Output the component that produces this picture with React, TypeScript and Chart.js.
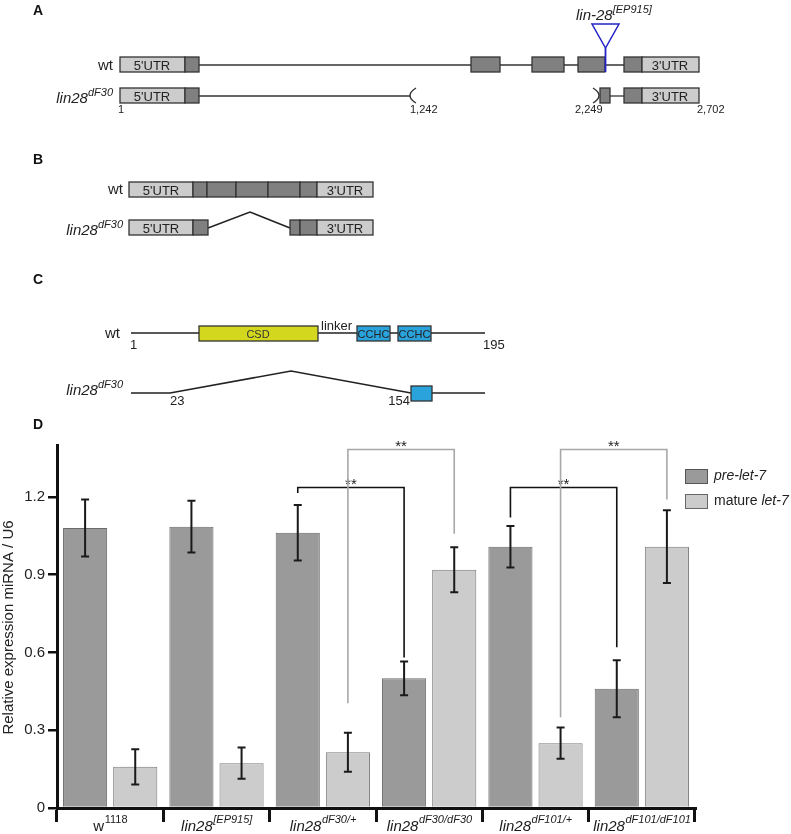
import React, { useEffect, useLayoutEffect, useRef } from "react";
import { Chart, registerables } from "chart.js";

Chart.register(...registerables);

const FONT = "'Liberation Sans', Arial, Helvetica, sans-serif";

// ---------- Panel D data ----------
const categories = ["w1118", "lin28[EP915]", "lin28dF30/+", "lin28dF30/dF30", "lin28dF101/+", "lin28dF101/dF101"];
const labelBase = ["w", "lin28", "lin28", "lin28", "lin28", "lin28"];
const labelSup = ["1118", "[EP915]", "dF30/+", "dF30/dF30", "dF101/+", "dF101/dF101"];
const labelItalic = [false, true, true, true, true, true];

const preLet7 = [1.08, 1.085, 1.062, 0.5, 1.008, 0.46];
const preLet7Err = [0.11, 0.1, 0.107, 0.065, 0.08, 0.11];
const matureLet7 = [0.159, 0.173, 0.215, 0.919, 0.25, 1.008];
const matureLet7Err = [0.068, 0.06, 0.075, 0.087, 0.06, 0.14];

const yTicks = [0, 0.3, 0.6, 0.9, 1.2];
const yTickLabels = ["0", "0.3", "0.6", "0.9", "1.2"];
const yTitle = "Relative expression miRNA / U6";

// significance brackets
const bracketFromCat = [2, 2, 4, 4];
const bracketToCat = [3, 3, 5, 5];
const bracketSeries = [0, 1, 0, 1];
const bracketTop = [1.238, 1.385, 1.238, 1.385];
const bracketLeftEnd = [1.215, 0.404, 1.12, 0.35];
const bracketRightEnd = [0.58, 1.058, 0.62, 1.19];
const bracketLabel = ["**", "**", "**", "**"];

const seriesColors = ["#9a9a9a", "#cccccc"];
const seriesBorders = ["#6a6a6a", "#7a7a7a"];
const bracketColors = ["#111111", "#a8a8a8"];

const errs = [preLet7Err, matureLet7Err];

const overlayPlugin = {
  id: "overlay",
  afterDatasetsDraw(chart: any) {
    const ctx = chart.ctx;
    const y = chart.scales.y;
    ctx.save();
    // error bars
    [preLet7, matureLet7].forEach((vals, di) => {
      const meta = chart.getDatasetMeta(di);
      meta.data.forEach((el: any, i: number) => {
        const x = el.x;
        const t = y.getPixelForValue(vals[i] + errs[di][i]);
        const b = y.getPixelForValue(vals[i] - errs[di][i]);
        ctx.strokeStyle = "#1a1a1a";
        ctx.lineWidth = 2;
        ctx.beginPath();
        ctx.moveTo(x, t);
        ctx.lineTo(x, b);
        ctx.moveTo(x - 4, t);
        ctx.lineTo(x + 4, t);
        ctx.moveTo(x - 4, b);
        ctx.lineTo(x + 4, b);
        ctx.stroke();
      });
    });
    ctx.restore();
  },
  afterDraw(chart: any) {
    const ctx = chart.ctx;
    const xs = chart.scales.x;
    const y = chart.scales.y;
    const area = chart.chartArea;
    ctx.save();
    // brackets
    for (let k = 0; k < bracketFromCat.length; k++) {
      const meta = chart.getDatasetMeta(bracketSeries[k]);
      const x1 = meta.data[bracketFromCat[k]].x;
      const x2 = meta.data[bracketToCat[k]].x;
      const yt = Math.round(y.getPixelForValue(bracketTop[k])) + 0.5;
      const y1 = y.getPixelForValue(bracketLeftEnd[k]);
      const y2 = y.getPixelForValue(bracketRightEnd[k]);
      ctx.strokeStyle = bracketColors[bracketSeries[k]];
      ctx.lineWidth = 1.6;
      ctx.beginPath();
      ctx.moveTo(x1, y1);
      ctx.lineTo(x1, yt);
      ctx.lineTo(x2, yt);
      ctx.lineTo(x2, y2);
      ctx.stroke();
      ctx.fillStyle = "#222";
      ctx.font = `15px ${FONT}`;
      ctx.textAlign = "center";
      ctx.textBaseline = "alphabetic";
      ctx.fillText(bracketLabel[k], (x1 + x2) / 2, yt + 1);
    }
    // x labels with superscripts
    ctx.textAlign = "left";
    ctx.textBaseline = "alphabetic";
    categories.forEach((_, i) => {
      const cx = xs.getPixelForValue(i);
      const it = labelItalic[i] ? "italic " : "";
      const baseFont = `${it}15px ${FONT}`;
      const supFont = `${it}11px ${FONT}`;
      ctx.font = baseFont;
      const w1 = ctx.measureText(labelBase[i]).width;
      ctx.font = supFont;
      const w2 = ctx.measureText(labelSup[i]).width;
      const sx = cx - (w1 + w2) / 2;
      ctx.fillStyle = "#1a1a1a";
      ctx.font = baseFont;
      ctx.fillText(labelBase[i], sx, 831);
      ctx.font = supFont;
      ctx.fillText(labelSup[i], sx + w1 + 0.5, 823);
    });
    // y title
    ctx.save();
    ctx.translate(9, (area.top + area.bottom) / 2 + 1);
    ctx.rotate(-Math.PI / 2);
    ctx.font = `15px ${FONT}`;
    ctx.fillStyle = "#222";
    ctx.textAlign = "center";
    ctx.textBaseline = "middle";
    ctx.fillText(yTitle, 0, 0);
    ctx.restore();
    // legend
    const lx = area.right - 10;
    const ly = area.top + 24;
    ctx.fillStyle = seriesColors[0];
    ctx.fillRect(lx, ly, 22, 14);
    ctx.strokeStyle = "#555";
    ctx.lineWidth = 1;
    ctx.strokeRect(lx + 0.5, ly + 0.5, 22, 14);
    ctx.fillStyle = seriesColors[1];
    ctx.fillRect(lx, ly + 25, 22, 14);
    ctx.strokeStyle = "#666";
    ctx.strokeRect(lx + 0.5, ly + 25.5, 22, 14);
    ctx.fillStyle = "#222";
    ctx.textBaseline = "middle";
    ctx.textAlign = "left";
    ctx.font = `italic 14px ${FONT}`;
    ctx.fillText("pre-let-7", lx + 29, ly + 7.5);
    ctx.font = `14px ${FONT}`;
    ctx.fillText("mature ", lx + 29, ly + 32.5);
    const mw = ctx.measureText("mature ").width;
    ctx.font = `italic 14px ${FONT}`;
    ctx.fillText("let-7", lx + 29 + mw, ly + 32.5);
    ctx.restore();
  },
};

function Diagrams() {
  const st = "#333";
  const dark = "#808080";
  const light = "#cccccc";
  const blue = "#2aa3dc";
  const sw = 1.3;
  const box = (x1: number, x2: number, y: number, fill: string, h = 15) => (
    <rect x={x1} y={y} width={x2 - x1} height={h} fill={fill} stroke={st} strokeWidth={sw} />
  );
  const t13 = { fontSize: 13, fill: "#222" } as any;
  return (
    <svg
      width={791}
      height={834}
      style={{ position: "absolute", left: 0, top: 0, pointerEvents: "none" }}
      fontFamily={FONT}
    >
      {/* Panel A */}
      <text x={33} y={15} fontSize={14} fontWeight="bold" fill="#111">A</text>
      <text x={113} y={70} fontSize={15} textAnchor="end" fill="#222">wt</text>
      <line x1={199} y1={65} x2={624} y2={65} stroke={st} strokeWidth={1.5} />
      {box(120, 185, 57, light)}
      {box(185, 199, 57, dark)}
      <text x={152} y={70} {...t13} textAnchor="middle">5'UTR</text>
      {box(471, 500, 57, dark)}
      {box(532, 564, 57, dark)}
      {box(578, 605, 57, dark)}
      {box(624, 642, 57, dark)}
      {box(642, 699, 57, light)}
      <text x={670} y={70} {...t13} textAnchor="middle">3'UTR</text>
      <polygon points="592,24 619,24 605.5,48" fill="none" stroke="#2323c8" strokeWidth={1.5} />
      <line x1={605.5} y1={48} x2={605.5} y2={72} stroke="#2323c8" strokeWidth={1.8} />
      <text x={576} y={20} fontSize={15} fontStyle="italic" fill="#222">
        lin-28<tspan fontSize={11} dy={-7}>[EP915]</tspan>
      </text>

      <text x={113} y={103} fontSize={15} fontStyle="italic" textAnchor="end" fill="#222">
        lin28<tspan fontSize={11} dy={-7}>dF30</tspan>
      </text>
      <line x1={199} y1={96} x2={410} y2={96} stroke={st} strokeWidth={1.3} />
      <path d="M416,88 Q404,95.5 416,103" fill="none" stroke={st} strokeWidth={1.4} />
      {box(120, 185, 88, light)}
      {box(185, 199, 88, dark)}
      <text x={152} y={101} {...t13} textAnchor="middle">5'UTR</text>
      <path d="M593,88 Q605,95.5 593,103" fill="none" stroke={st} strokeWidth={1.4} />
      <line x1={610} y1={96} x2={624} y2={96} stroke={st} strokeWidth={1.3} />
      {box(600, 610, 88, dark)}
      {box(624, 642, 88, dark)}
      {box(642, 699, 88, light)}
      <text x={670} y={101} {...t13} textAnchor="middle">3'UTR</text>
      <text x={118} y={113} fontSize={11} fill="#222">1</text>
      <text x={410} y={113} fontSize={11} fill="#222">1,242</text>
      <text x={575} y={113} fontSize={11} fill="#222">2,249</text>
      <text x={697} y={113} fontSize={11} fill="#222">2,702</text>

      {/* Panel B */}
      <text x={33} y={164} fontSize={14} fontWeight="bold" fill="#111">B</text>
      <text x={123} y={194} fontSize={15} textAnchor="end" fill="#222">wt</text>
      {box(129, 193, 182, light)}
      {box(193, 207, 182, dark)}
      {box(207, 236, 182, dark)}
      {box(236, 268, 182, dark)}
      {box(268, 300, 182, dark)}
      {box(300, 317, 182, dark)}
      {box(317, 373, 182, light)}
      <text x={161} y={195} {...t13} textAnchor="middle">5'UTR</text>
      <text x={345} y={195} {...t13} textAnchor="middle">3'UTR</text>
      <text x={123} y={235} fontSize={15} fontStyle="italic" textAnchor="end" fill="#222">
        lin28<tspan fontSize={11} dy={-7}>dF30</tspan>
      </text>
      <polyline points="208,228 250,212 290,228" fill="none" stroke="#222" strokeWidth={1.5} />
      {box(129, 193, 220, light)}
      {box(193, 208, 220, dark)}
      {box(290, 300, 220, dark)}
      {box(300, 317, 220, dark)}
      {box(317, 373, 220, light)}
      <text x={161} y={233} {...t13} textAnchor="middle">5'UTR</text>
      <text x={345} y={233} {...t13} textAnchor="middle">3'UTR</text>

      {/* Panel C */}
      <text x={33} y={284} fontSize={14} fontWeight="bold" fill="#111">C</text>
      <text x={120} y={338} fontSize={15} textAnchor="end" fill="#222">wt</text>
      <line x1={131} y1={333} x2={485} y2={333} stroke="#222" strokeWidth={1.5} />
      <rect x={199} y={326} width={119} height={15} fill="#d3d81e" stroke={st} strokeWidth={sw} />
      <text x={258} y={338} fontSize={11} textAnchor="middle" fill="#333">CSD</text>
      <text x={321} y={330} fontSize={13} fill="#222">linker</text>
      <rect x={357} y={326} width={33} height={15} fill={blue} stroke={st} strokeWidth={sw} />
      <rect x={398} y={326} width={33} height={15} fill={blue} stroke={st} strokeWidth={sw} />
      <text x={373.5} y={338} fontSize={11} textAnchor="middle" fill="#222">CCHC</text>
      <text x={414.5} y={338} fontSize={11} textAnchor="middle" fill="#222">CCHC</text>
      <text x={130} y={349} fontSize={13} fill="#222">1</text>
      <text x={483} y={349} fontSize={13} fill="#222">195</text>
      <text x={123} y={395} fontSize={15} fontStyle="italic" textAnchor="end" fill="#222">
        lin28<tspan fontSize={11} dy={-7}>dF30</tspan>
      </text>
      <polyline points="131,393 170,393 291,371 411,393" fill="none" stroke="#222" strokeWidth={1.5} />
      <line x1={432} y1={393} x2={485} y2={393} stroke="#222" strokeWidth={1.5} />
      <rect x={411} y={386} width={21} height={15} fill={blue} stroke={st} strokeWidth={sw} />
      <text x={170} y={405} fontSize={13} fill="#222">23</text>
      <text x={410} y={405} fontSize={13} textAnchor="end" fill="#222">154</text>

      {/* Panel D letter */}
      <text x={33} y={429} fontSize={14} fontWeight="bold" fill="#111">D</text>
    </svg>
  );
}

export default function App() {
  const ref = useRef<HTMLCanvasElement | null>(null);

  useLayoutEffect(() => {
    document.body.style.margin = "0";
  }, []);

  useEffect(() => {
    if (!ref.current) return;
    const chart = new Chart(ref.current, {
      type: "bar",
      data: {
        labels: categories,
        datasets: [
          {
            label: "pre-let-7",
            data: preLet7,
            backgroundColor: seriesColors[0],
            borderColor: seriesBorders[0],
            borderWidth: 1,
            categoryPercentage: 0.943,
            barPercentage: 0.88,
          },
          {
            label: "mature let-7",
            data: matureLet7,
            backgroundColor: seriesColors[1],
            borderColor: seriesBorders[1],
            borderWidth: 1,
            categoryPercentage: 0.943,
            barPercentage: 0.88,
          },
        ],
      },
      options: {
        responsive: false,
        maintainAspectRatio: false,
        animation: false,
        layout: { padding: { left: 0, top: 445, right: 96, bottom: 0 } },
        plugins: { legend: { display: false }, tooltip: { enabled: false }, title: { display: false } },
        scales: {
          x: {
            grid: { offset: true, drawOnChartArea: false, color: "#111", lineWidth: 3, tickLength: 14 },
            border: { color: "#111", width: 3 },
            ticks: { display: false },
            afterFit: (s: any) => {
              s.height = 26;
            },
          },
          y: {
            min: 0,
            max: 1.4,
            afterBuildTicks: (s: any) => {
              s.ticks = yTicks.map((v) => ({ value: v }));
            },
            ticks: {
              callback: (_v: any, i: number) => yTickLabels[i],
              font: { size: 15, family: FONT },
              color: "#222",
              padding: 3,
            },
            grid: { drawOnChartArea: false, color: "#111", lineWidth: 2.5, tickLength: 9 },
            border: { color: "#111", width: 3 },
            afterFit: (s: any) => {
              s.width = 57;
            },
          },
        },
      } as any,
      plugins: [overlayPlugin],
    });
    return () => chart.destroy();
  }, []);

  return (
    <div style={{ position: "relative", width: 791, height: 834, overflow: "hidden", background: "#fff" }}>
      <canvas ref={ref} width={791} height={834} style={{ position: "absolute", left: 0, top: 0 }} />
      <Diagrams />
    </div>
  );
}
